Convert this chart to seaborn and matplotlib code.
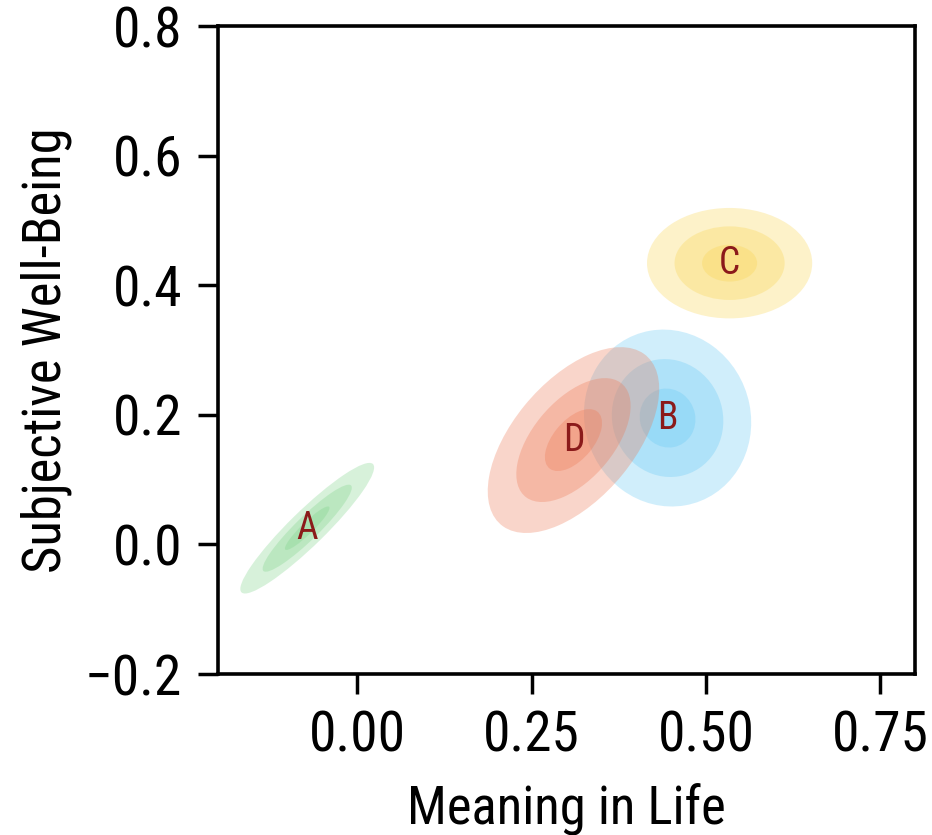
import numpy as np
import matplotlib
matplotlib.use("Agg")
import matplotlib.pyplot as plt
from matplotlib.patches import Ellipse
import seaborn as sns

# ---- data ----
groups = ["A", "B", "C", "D"]
center_x = [-0.072, 0.445, 0.534, 0.310]
center_y = [0.025, 0.195, 0.434, 0.161]
sd_x = [0.032, 0.040, 0.0395, 0.041]
sd_y = [0.0336, 0.0455, 0.0284, 0.0478]
rho = [0.93, -0.05, 0.0, 0.55]
colors = ["#7bd387", "#64c8f5", "#f9d44d", "#ee7650"]
levels = [3, 2, 1]
x_ticks = [0.0, 0.25, 0.50, 0.75]
y_ticks = [-0.2, 0.0, 0.2, 0.4, 0.6, 0.8]

sns.set_theme(style="ticks")
plt.rcParams["font.family"] = ["Roboto Condensed", "Liberation Sans Narrow", "Roboto", "DejaVu Sans"]
plt.rcParams["text.color"] = "black"
plt.rcParams["axes.labelcolor"] = "black"
plt.rcParams["xtick.color"] = "black"
plt.rcParams["ytick.color"] = "black"

fig = plt.figure(figsize=(9.32, 8.35), dpi=100)
ax = fig.add_axes([218 / 932, 1 - 674 / 835, (915 - 218) / 932, (674 - 26) / 835])

for g, cx, cy, sx, sy, r, col in zip(groups, center_x, center_y, sd_x, sd_y, rho, colors):
    cov = np.array([[sx * sx, r * sx * sy], [r * sx * sy, sy * sy]])
    vals, vecs = np.linalg.eigh(cov)
    order = vals.argsort()[::-1]
    vals, vecs = vals[order], vecs[:, order]
    angle = np.degrees(np.arctan2(vecs[1, 0], vecs[0, 0]))
    for k in levels:
        e = Ellipse((cx, cy), width=2 * k * np.sqrt(vals[0]), height=2 * k * np.sqrt(vals[1]),
                    angle=angle, facecolor=col, edgecolor="none", alpha=0.3)
        ax.add_patch(e)

for g, cx, cy in zip(groups, center_x, center_y):
    ax.text(cx, cy, g, ha="center", va="center", fontsize=27, color="#8b1a1a")

ax.set_xlim(-0.2, 0.8)
ax.set_ylim(-0.2, 0.8)
ax.set_xticks(x_ticks)
ax.set_xticklabels([f"{v:.2f}" for v in x_ticks])
ax.set_yticks(y_ticks)
ax.set_yticklabels([f"{v:.1f}".replace("-", "\u2212") for v in y_ticks])
ax.set_xlabel("Meaning in Life", fontsize=38)
ax.set_ylabel("Subjective Well-Being", fontsize=38)
ax.xaxis.set_label_coords(0.5, (674 - 784) / 648)
ax.yaxis.set_label_coords((72 - 218) / 697, 0.5)
ax.tick_params(axis="both", labelsize=40, length=14.4, width=2.5, color="black")
ax.tick_params(axis="x", pad=11)
ax.tick_params(axis="y", pad=11.5)
for s in ax.spines.values():
    s.set_linewidth(2.6)
    s.set_color("black")
ax.set_facecolor("white")

fig.savefig("out.png", dpi=100, facecolor="white")
